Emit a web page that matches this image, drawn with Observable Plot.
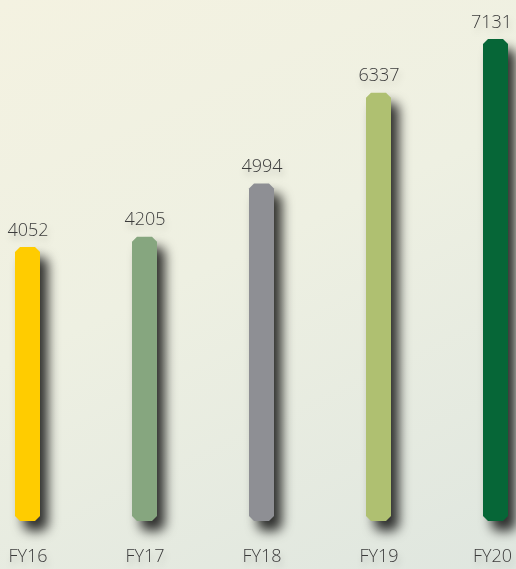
<!DOCTYPE html>
<html><head><meta charset="utf-8">
<script src="https://cdn.jsdelivr.net/npm/d3@7"></script>
<script src="https://cdn.jsdelivr.net/npm/@observablehq/plot@0.6"></script>
<style>
html,body{margin:0;padding:0;}
body{width:516px;height:569px;background:linear-gradient(155deg,#f4f2e1 0%,#eef0e2 45%,#dfe6df 100%);overflow:hidden}
svg text{font-weight:300;}
</style></head><body><div id="chart"></div>
<script>
const years = ["FY16","FY17","FY18","FY19","FY20"];
const values = [4052, 4205, 4994, 6337, 7131];
const colors = ["#ffcc00","#86a67f","#8e8f94","#afc071","#066637"];
const data = years.map((y,i)=>({year:y, value:values[i], color:colors[i]}));
const plot = Plot.plot({
  width:516, height:569, marginTop:39, marginBottom:48, marginLeft:14, marginRight:8,
  style:{background:"transparent", fontFamily:"'Open Sans', sans-serif", fontSize:"18px", color:"#3b3b3b", overflow:"visible"},
  x:{domain:years, paddingInner:0.7868, paddingOuter:0, label:null, tickSize:0, tickPadding:28},
  y:{domain:[0, d3.max(values)], axis:null},
  color:{type:"identity"},
  marks:[
    Plot.barY(data,{x:"year", y:"value", fill:"color"}),
    Plot.text(data,{x:"year", y:"value", text:d=>String(d.value), dy:-12, lineAnchor:"bottom", fill:"#3b3b3b"})
  ]
});
document.getElementById("chart").appendChild(plot);
const svg = d3.select(plot);
const c = 5;
svg.selectAll("g[aria-label='bar'] rect").each(function(){
  const r = d3.select(this);
  const x=+r.attr("x"), y=+r.attr("y"), w=+r.attr("width"), h=+r.attr("height");
  const d = `M${x+c},${y}H${x+w-c}L${x+w},${y+c}V${y+h-c}L${x+w-c},${y+h}H${x+c}L${x},${y+h-c}V${y+c}Z`;
  d3.select(this.parentNode).insert("path", () => this).attr("d", d).attr("fill", r.attr("fill"));
  r.remove();
});
svg.selectAll("g[aria-label='bar']").style("filter","drop-shadow(8px 10px 6px rgba(0,0,0,0.8))");
svg.selectAll("text").style("filter","drop-shadow(2px 5px 3px rgba(0,0,0,0.18))");
// keep edge labels inside the frame
const maxRight = 512;
svg.selectAll("text").each(function(){
  const b = this.getBBox();
  const ctm = this.getCTM();
  const right = (ctm ? ctm.e : 0) + b.x + b.width;
  if (right > maxRight) {
    const cur = this.getAttribute("dx");
    d3.select(this).attr("dx", (cur ? parseFloat(cur) : 0) - (right - maxRight));
  }
});
</script></body></html>
